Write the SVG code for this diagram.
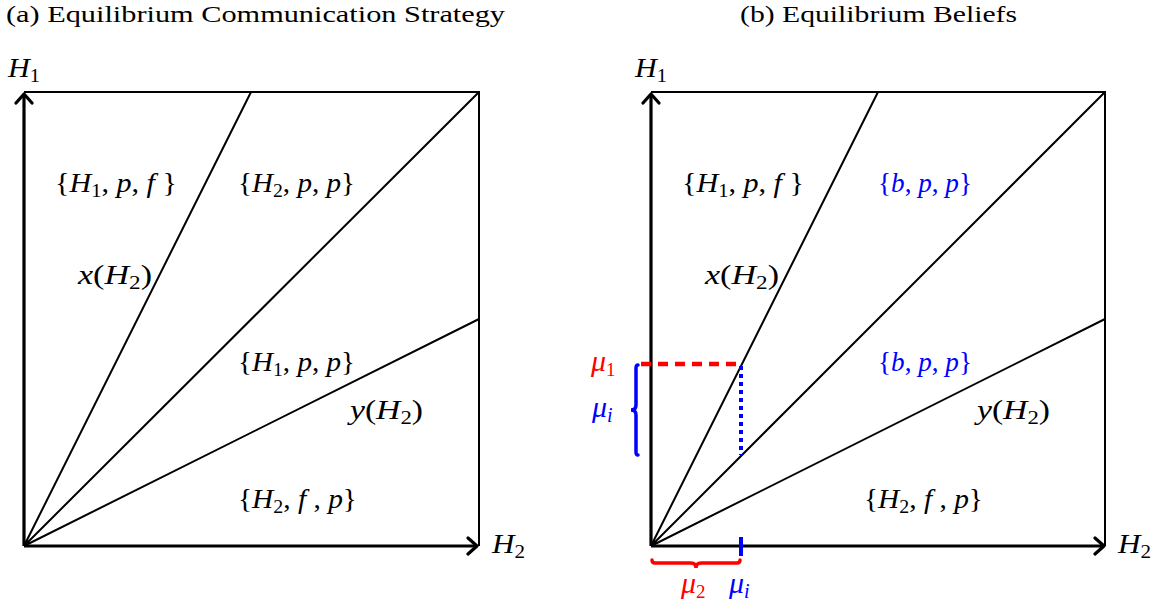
<svg xmlns="http://www.w3.org/2000/svg" width="1166" height="612" viewBox="0 0 1166 612">
<style>
.t{font-family:"Liberation Serif","DejaVu Serif",serif;fill:#000}
.title{font-size:24px}
.m{font-size:28px}
.mu{font-size:30px}
.i{font-style:italic}
.s{font-size:19px;font-style:normal}
.si{font-size:20px;font-style:italic}
.axis{stroke:#000;stroke-width:3.2;fill:none}
.arr{stroke:#000;stroke-width:3.2;fill:none;stroke-linecap:round;stroke-linejoin:round}
.ln{stroke:#000;stroke-width:2;fill:none}
.blue{fill:#0000ff}
.red{fill:#ff0000}
</style>
<rect width="1166" height="612" fill="#fff"/>
<text class="t title" x="6" y="22" textLength="499" lengthAdjust="spacingAndGlyphs">(a) Equilibrium Communication Strategy</text>
<text class="t title" x="740" y="22" textLength="277" lengthAdjust="spacingAndGlyphs">(b) Equilibrium Beliefs</text>

<g id="connectors">
<path class="ln" d="M24 92 H479 V546"/>
<path class="ln" d="M24 546 L251 92 M24 546 L479 92 M24 546 L479 319"/>
<path class="axis" d="M24 546 V94 M24 546 H477"/>
<path class="arr" d="M16 103 L24 94 L32 103 M468 538 L477 546 L468 554"/>
<path class="ln" d="M651 92 H1105 V546"/>
<path class="ln" d="M651 546 L878 92 M651 546 L1105 92 M651 546 L1105 319"/>
<path class="axis" d="M651 546 V94 M651 546 H1104"/>
<path class="arr" d="M643 103 L651 94 L659 103 M1095 538 L1104 546 L1095 554"/>
<path d="M641 364 H741" stroke="#ff0000" stroke-width="4.5" stroke-dasharray="10 7" fill="none"/>
<path d="M741 366 V455" stroke="#0000ff" stroke-width="4" stroke-dasharray="4 4" fill="none"/>
<path d="M741 537 V556" stroke="#0000ff" stroke-width="4" fill="none"/>
<path d="M638 365 Q636 365 636 368 V405 Q636 410 631 410 Q636 410 636 415 V452 Q636 455 638 455" stroke="#0000ff" stroke-width="3.5" fill="none" stroke-linecap="round"/>
<path d="M652 560 Q652 563 655 563 H691 Q696 563 696 568 Q696 563 701 563 H737 Q740 563 740 560" stroke="#ff0000" stroke-width="3.5" fill="none" stroke-linecap="round"/>
</g>

<g id="axis-labels">
<text class="t m" x="8" y="77" textLength="32" lengthAdjust="spacingAndGlyphs"><tspan class="i">H</tspan><tspan class="s" dy="5">1</tspan></text>
<text class="t m" x="635" y="77" textLength="32" lengthAdjust="spacingAndGlyphs"><tspan class="i">H</tspan><tspan class="s" dy="5">1</tspan></text>
<text class="t m" x="492" y="553" textLength="33" lengthAdjust="spacingAndGlyphs"><tspan class="i">H</tspan><tspan class="s" dy="5">2</tspan></text>
<text class="t m" x="1118" y="553" textLength="33" lengthAdjust="spacingAndGlyphs"><tspan class="i">H</tspan><tspan class="s" dy="5">2</tspan></text>
</g>

<g id="left-regions">
<text class="t m" x="55" y="192" textLength="122" lengthAdjust="spacingAndGlyphs">{<tspan class="i">H</tspan><tspan class="s" dy="5">1</tspan><tspan dy="-5">, </tspan><tspan class="i">p</tspan>, <tspan class="i">f</tspan> }</text>
<text class="t m" x="238" y="192" textLength="117" lengthAdjust="spacingAndGlyphs">{<tspan class="i">H</tspan><tspan class="s" dy="5">2</tspan><tspan dy="-5">, </tspan><tspan class="i">p</tspan>, <tspan class="i">p</tspan>}</text>
<text class="t m" x="78" y="284" textLength="74" lengthAdjust="spacingAndGlyphs"><tspan class="i">x</tspan>(<tspan class="i">H</tspan><tspan class="s" dy="5">2</tspan><tspan dy="-5">)</tspan></text>
<text class="t m" x="238" y="371" textLength="117" lengthAdjust="spacingAndGlyphs">{<tspan class="i">H</tspan><tspan class="s" dy="5">1</tspan><tspan dy="-5">, </tspan><tspan class="i">p</tspan>, <tspan class="i">p</tspan>}</text>
<text class="t m" x="350" y="419" textLength="73" lengthAdjust="spacingAndGlyphs"><tspan class="i">y</tspan>(<tspan class="i">H</tspan><tspan class="s" dy="5">2</tspan><tspan dy="-5">)</tspan></text>
<text class="t m" x="238" y="508" textLength="119" lengthAdjust="spacingAndGlyphs">{<tspan class="i">H</tspan><tspan class="s" dy="5">2</tspan><tspan dy="-5">, </tspan><tspan class="i">f</tspan> , <tspan class="i">p</tspan>}</text>
</g>

<g id="right-regions">
<text class="t m" x="682" y="192" textLength="122" lengthAdjust="spacingAndGlyphs">{<tspan class="i">H</tspan><tspan class="s" dy="5">1</tspan><tspan dy="-5">, </tspan><tspan class="i">p</tspan>, <tspan class="i">f</tspan> }</text>
<text class="t m blue" x="878" y="192" textLength="94" lengthAdjust="spacingAndGlyphs">{<tspan class="i">b</tspan>, <tspan class="i">p</tspan>, <tspan class="i">p</tspan>}</text>
<text class="t m" x="705" y="284" textLength="74" lengthAdjust="spacingAndGlyphs"><tspan class="i">x</tspan>(<tspan class="i">H</tspan><tspan class="s" dy="5">2</tspan><tspan dy="-5">)</tspan></text>
<text class="t m blue" x="878" y="371" textLength="94" lengthAdjust="spacingAndGlyphs">{<tspan class="i">b</tspan>, <tspan class="i">p</tspan>, <tspan class="i">p</tspan>}</text>
<text class="t m" x="977" y="419" textLength="73" lengthAdjust="spacingAndGlyphs"><tspan class="i">y</tspan>(<tspan class="i">H</tspan><tspan class="s" dy="5">2</tspan><tspan dy="-5">)</tspan></text>
<text class="t m" x="864" y="508" textLength="119" lengthAdjust="spacingAndGlyphs">{<tspan class="i">H</tspan><tspan class="s" dy="5">2</tspan><tspan dy="-5">, </tspan><tspan class="i">f</tspan> , <tspan class="i">p</tspan>}</text>
</g>

<g id="mu-labels">
<text class="t mu red" x="591" y="371"><tspan class="i">μ</tspan><tspan class="s" dy="5">1</tspan></text>
<text class="t mu blue" x="592" y="417"><tspan class="i">μ</tspan><tspan class="si" dy="5">i</tspan></text>
<text class="t mu red" x="681" y="593"><tspan class="i">μ</tspan><tspan class="s" dy="5">2</tspan></text>
<text class="t mu blue" x="729" y="593"><tspan class="i">μ</tspan><tspan class="si" dy="5">i</tspan></text>
</g>
</svg>
